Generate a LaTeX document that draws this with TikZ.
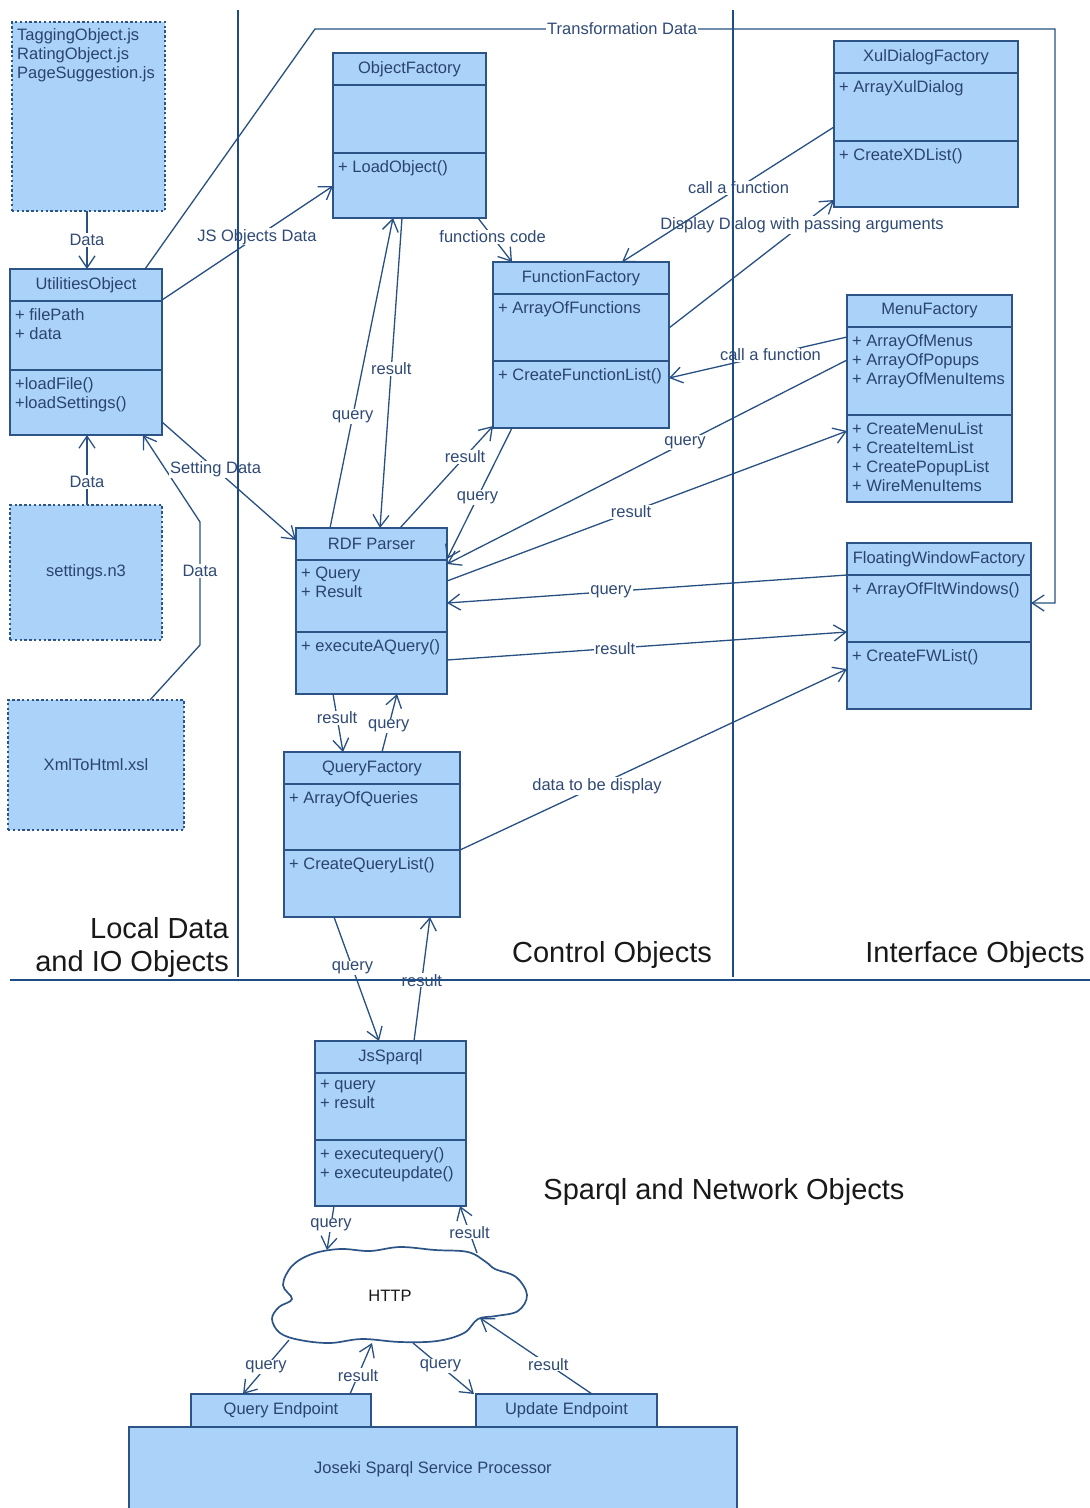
\documentclass[tikz,border=0pt]{standalone}
\usepackage{fontspec}
\setmainfont{Liberation Sans}
\usetikzlibrary{arrows.meta,calc}

\definecolor{boxfill}{RGB}{171,210,248}
\definecolor{boxdraw}{RGB}{44,84,134}
\definecolor{boxtext}{RGB}{42,68,112}
\definecolor{linecol}{RGB}{40,80,130}
\definecolor{lbltext}{RGB}{48,74,118}
\definecolor{secline}{RGB}{30,76,132}
\definecolor{titletext}{RGB}{25,25,25}

\tikzset{
  classbox/.style={draw=boxdraw, fill=boxfill, line width=1.6pt, inner sep=0pt, outer sep=0pt},
  divider/.style={draw=boxdraw, line width=1.6pt},
  classtitle/.style={text=boxtext, font=\fontsize{16.5}{19}\selectfont, inner sep=0pt},
  classtext/.style={text=boxtext, font=\fontsize{16.5}{19}\selectfont, inner sep=0pt, align=left, anchor=north west},
  filebox/.style={draw=boxdraw, fill=boxfill, line width=1.6pt, dash pattern=on 2.4pt off 2.4pt,
    inner sep=0pt, outer sep=0pt, text=boxtext, font=\fontsize{16.5}{19}\selectfont},
  flatbox/.style={draw=boxdraw, fill=boxfill, line width=1.6pt, inner sep=0pt, outer sep=0pt,
    text=boxtext, font=\fontsize{16.5}{19}\selectfont},
  cloudline/.style={draw=boxdraw, fill=white, line width=1.7pt},
  conn/.style={draw=linecol, line width=1.3pt, -{Straight Barb[length=12pt,width=16pt]}},
  lbl/.style={fill=white, text=lbltext, font=\fontsize{16.5}{19}\selectfont, inner sep=1pt},
  section/.style={draw=secline, line width=2.6pt},
  region/.style={text=titletext, font=\fontsize{29}{33}\selectfont, inner sep=0pt},
}

% UML class: name, x1, y1, x2, y2, y of method divider, title, attributes, operations
\newcommand{\umlclass}[9]{%
  \node[classbox, anchor=north west, minimum width={(#4)-(#2)}, minimum height={(#5)-(#3)}] (#1) at (#2,#3) {};
  \draw[divider] (#2,#3+32) -- (#4,#3+32);
  \draw[divider] (#2,#6) -- (#4,#6);
  \node[classtitle] (#1-title) at ({(#2+#4)/2},#3+16) {#7};
  \node[classtext] (#1-attr) at (#2+5,#3+39) {#8};
  \node[classtext] (#1-ops) at (#2+5,#6+7) {#9};
}

\begin{document}
\begin{tikzpicture}[x=1pt,y=-1pt]
\fill[white] (0,0) rectangle (1090,1508);
\useasboundingbox (0,0) rectangle (1090,1508);

% ---------- local data and IO objects ----------
\node[filebox, anchor=north west, minimum width=153, minimum height=189] (files) at (12,22) {};
\node[classtext] (files-text) at (17,28) {TaggingObject.js\\RatingObject.js\\PageSuggestion.js};
\node[filebox, anchor=north west, minimum width=152, minimum height=135] (settings) at (10,505) {settings.n3};
\node[filebox, anchor=north west, minimum width=176, minimum height=130] (xml) at (8,700) {XmlToHtml.xsl};

\umlclass{util}{10}{269}{162}{435}{370}{UtilitiesObject}{+ filePath\\+ data}{+loadFile()\\+loadSettings()}

% ---------- control objects ----------
\umlclass{objfac}{333}{53}{486}{218}{153}{ObjectFactory}{}{+ LoadObject()}
\umlclass{funcfac}{493}{262}{669}{428}{361}{FunctionFactory}{+ ArrayOfFunctions}{+ CreateFunctionList()}
\umlclass{rdf}{296}{528}{447}{694}{632}{RDF Parser}{+ Query\\+ Result}{+ executeAQuery()}
\umlclass{qf}{284}{752}{460}{917}{850}{QueryFactory}{+ ArrayOfQueries}{+ CreateQueryList()}

% ---------- interface objects ----------
\umlclass{xul}{834}{41}{1018}{207}{141}{XulDialogFactory}{+ ArrayXulDialog}{+ CreateXDList()}
\umlclass{menu}{847}{295}{1012}{502}{415}{MenuFactory}{+ ArrayOfMenus\\+ ArrayOfPopups\\+ ArrayOfMenuItems}{+ CreateMenuList\\+ CreateItemList\\+ CreatePopupList\\+ WireMenuItems}
\umlclass{fwf}{847}{543}{1031}{709}{642}{FloatingWindowFactory}{+ ArrayOfFltWindows()}{+ CreateFWList()}

% ---------- sparql and network objects ----------
\umlclass{jss}{315}{1041}{466}{1206}{1140}{JsSparql}{+ query\\+ result}{+ executequery()\\+ executeupdate()}

% HTTP cloud outline
\draw[cloudline] plot[smooth cycle, tension=0.6] coordinates {
  (292,1266) (312,1254) (340,1249) (370,1251) (400,1247) (435,1250) (468,1252)
  (486,1262) (495,1269) (516,1277) (527,1295) (518,1311) (496,1316)
  (478,1319) (464,1333) (437,1341) (400,1342) (362,1339) (330,1343) (300,1340)
  (280,1333) (272,1319) (279,1307) (292,1299) (283,1285)};
\node[text=titletext, font=\fontsize{16.5}{19}\selectfont, inner sep=0pt] (http) at (390,1296) {HTTP};

\node[flatbox, anchor=north west, minimum width=608, minimum height=84] (joseki) at (129,1427) {Joseki Sparql Service Processor};
\node[flatbox, anchor=north west, minimum width=180, minimum height=33] (qep) at (191,1394) {Query Endpoint};
\node[flatbox, anchor=north west, minimum width=181, minimum height=33] (uep) at (476,1394) {Update Endpoint};

% ---------- bend points ----------
\coordinate (xb1) at (200,645);
\coordinate (xb2) at (200,522);
\coordinate (tb1) at (315,29);
\coordinate (tb2) at (1055,29);
\coordinate (tb3) at (1055,603);

% ---------- connectors ----------
\draw[conn] ($(files.south west)+(75,0)$) -- node[lbl,pos=.5] (l1) {Data} ($(util.north west)+(77,0)$);
\draw[conn] ($(settings.north west)+(77,0)$) -- node[lbl,pos=.33] (l2) {Data} ($(util.south west)+(77,0)$);
\draw[conn] ($(xml.north west)+(142,0)$) -- (xb1) -- node[lbl,pos=.6] (l3) {Data} (xb2) -- ($(util.south west)+(133,0)$);
\draw[conn] ($(util.north east)+(0,31)$) -- node[lbl,pos=.555] (l4) {JS Objects Data} ($(objfac.north west)+(0,133)$);
\draw[conn] ($(util.north west)+(135,0)$) -- (tb1) -- node[lbl,pos=.415] (l5) {Transformation Data} (tb2) -- (tb3) -- ($(fwf.north east)+(0,60)$);
\draw[conn] ($(util.south east)+(0,-13)$) -- node[lbl,pos=.4] (l6) {Setting Data} ($(rdf.north west)+(0,12)$);

\draw[conn] ($(rdf.north west)+(34,0)$) -- node[lbl,pos=.36] (l7) {query} ($(objfac.south west)+(60,0)$);
\draw[conn] ($(objfac.south west)+(69,0)$) -- node[lbl,pos=.487] (l8) {result} ($(rdf.north west)+(84,0)$);
\draw[conn] ($(objfac.south east)+(-8,0)$) -- node[lbl,pos=.43] (l9) {functions code} ($(funcfac.north west)+(19,0)$);
\draw[conn] ($(rdf.north west)+(104,0)$) -- node[lbl,pos=.7] (l10) {result} ($(funcfac.south west)+(0,-2)$);
\draw[conn] ($(funcfac.south west)+(19,0)$) -- node[lbl,pos=.53] (l11) {query} ($(rdf.north east)+(0,31)$);

\draw[conn] ($(funcfac.north east)+(0,66)$) -- node[lbl,pos=.806] (l13) {Display Dialog with passing arguments} ($(xul.south west)+(0,-7)$);
\draw[conn] ($(xul.north west)+(0,86)$) -- node[lbl,pos=.45] (l12) {call a function} ($(funcfac.north west)+(129,0)$);
\draw[conn] ($(menu.north west)+(0,42)$) -- node[lbl,pos=.43] (l14) {call a function} ($(funcfac.north east)+(0,116)$);
\draw[conn] ($(menu.north west)+(0,65)$) -- node[lbl,pos=.405] (l15) {query} ($(rdf.north east)+(0,36)$);
\draw[conn] ($(rdf.north east)+(0,53)$) -- node[lbl,pos=.46] (l16) {result} ($(menu.north west)+(0,136)$);
\draw[conn] ($(fwf.north west)+(0,32)$) -- node[lbl,pos=.59] (l17) {query} ($(rdf.north east)+(0,75)$);
\draw[conn] ($(rdf.north east)+(0,132)$) -- node[lbl,pos=.42] (l18) {result} ($(fwf.north west)+(0,89)$);
\draw[conn] ($(qf.north east)+(0,98)$) -- node[lbl,pos=.354] (l19) {data to be display} ($(fwf.north west)+(0,126)$);

\draw[conn] ($(rdf.south west)+(37,0)$) -- node[lbl,pos=.41] (l20) {result} ($(qf.north west)+(59,0)$);
\draw[conn] ($(qf.north west)+(98,0)$) -- node[lbl,pos=.45] (l21) {query} ($(rdf.south west)+(101,0)$);
\draw[conn] ($(qf.south west)+(50,0)$) -- node[lbl,pos=.41] (l22) {query} ($(jss.north west)+(64,0)$);
\draw[conn] ($(jss.north west)+(99,0)$) -- node[lbl,pos=.49] (l23) {result} ($(qf.south west)+(146,0)$);

\draw[conn] ($(jss.south west)+(19,0)$) -- node[lbl,pos=.43] (l24) {query} ($(http.center)+(-63,-46)$);
\draw[conn] ($(http.center)+(87,-43)$) -- node[lbl,pos=.44] (l25) {result} ($(jss.south east)+(-6,0)$);
\draw[conn] ($(http.center)+(-101,44)$) -- node[lbl,pos=.5] (l26) {query} ($(qep.north west)+(52,0)$);
\draw[conn] ($(qep.north west)+(159,0)$) -- node[lbl,pos=.37] (l27) {result} ($(http.center)+(-18,47)$);
\draw[conn] ($(http.center)+(23,47)$) -- node[lbl,pos=.45] (l28) {query} ($(uep.north west)+(-2,0)$);
\draw[conn] ($(uep.north west)+(116,0)$) -- node[lbl,pos=.39] (l29) {result} ($(http.center)+(90,22)$);

% ---------- layer separators ----------
\draw[section] (238,10) -- (238,977);
\draw[section] (733,10) -- (733,977);
\draw[section] (10,980) -- (1090,980);

\node[region, align=right, anchor=north east] (r1) at (229,917) {Local Data\\and IO Objects};
\node[region, anchor=base] (r2) at (612,962) {Control Objects};
\node[region, anchor=base] (r3) at (975,962) {Interface Objects};
\node[region, anchor=base] (r4) at (724,1199) {Sparql and Network Objects};
\end{tikzpicture}
\end{document}
